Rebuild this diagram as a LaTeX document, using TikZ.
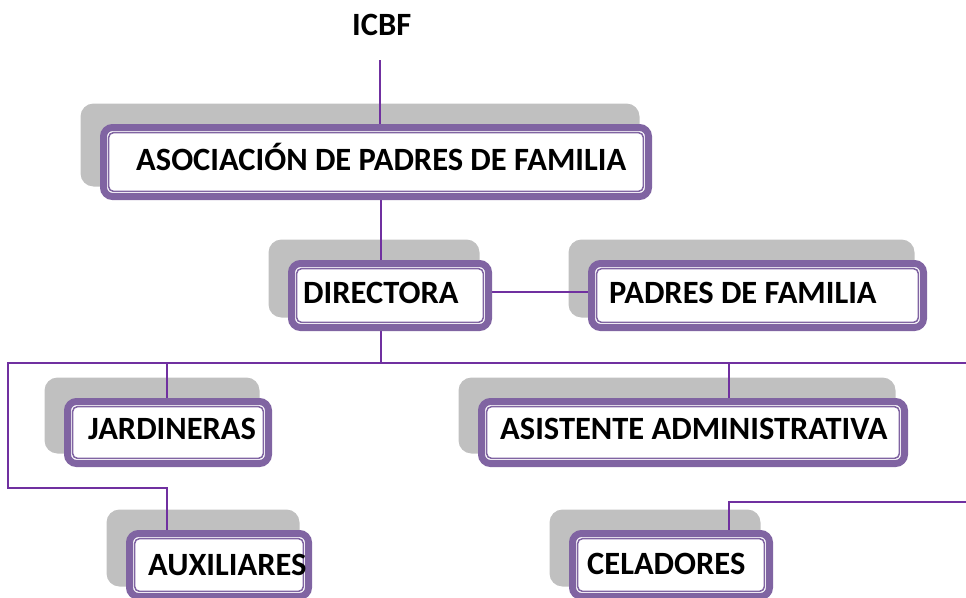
\documentclass[tikz,border=0pt]{standalone}
\usepackage{fontspec}
\setmainfont{Carlito}
\usetikzlibrary{backgrounds,calc}
\definecolor{boxpurple}{HTML}{8064A2}
\definecolor{linepurple}{HTML}{7030A0}
\definecolor{shadowgray}{HTML}{C0C0C0}
\tikzset{
  orgbox/.style={draw=boxpurple, line width=7pt, fill=white, rounded corners=9pt, inner sep=0pt},
  innerline/.style={draw=boxpurple, line width=1.5pt, rounded corners=5pt},
  shadowbox/.style={fill=shadowgray, rounded corners=13pt},
  conn/.style={draw=linepurple, line width=1.8pt},
  lbl/.style={anchor=base west, inner sep=0pt, font=\fontsize{32.5}{38}\selectfont\bfseries}
}
\begin{document}
\begin{tikzpicture}[x=1pt,y=-1pt]
\useasboundingbox (0,0) rectangle (966,597);
\clip (0,0) rectangle (966,597);
% boxes (node border runs along the middle of the thick line)
\node[orgbox, minimum width=545pt, minimum height=69pt] (asoc) at (376,162) {};
\node[orgbox, minimum width=197pt, minimum height=64pt] (dir) at (390,295.5) {};
\node[orgbox, minimum width=332pt, minimum height=64pt] (pad) at (757.5,295.5) {};
\node[orgbox, minimum width=201pt, minimum height=62pt] (jar) at (168,432.5) {};
\node[orgbox, minimum width=423pt, minimum height=62pt] (asis) at (693,432.5) {};
\node[orgbox, minimum width=179pt, minimum height=63pt] (aux) at (219,565) {};
\node[orgbox, minimum width=197pt, minimum height=63pt] (cel) at (671,565) {};
\foreach \n in {asoc,dir,pad,jar,asis,aux,cel} {
  \draw[innerline] ($(\n.north west)+(8.6,8.6)$) rectangle ($(\n.south east)+(-8.6,-8.6)$);
}
% coordinates
\coordinate (top) at (380,60);
\coordinate (trunk) at (381,0);
\coordinate (busL) at (8,363);
\coordinate (busR) at (975,363);
\coordinate (jarx) at (167,363);
\coordinate (asisx) at (729,363);
\coordinate (auxturn) at (167,488);
\coordinate (celR) at (975,502);
\coordinate (celturn) at (729,502);
\begin{scope}[on background layer]
  \foreach \n in {asoc,dir,pad,jar,asis,aux,cel} {
    \fill[shadowbox] ($(\n.north west)+(-19.5,-20.5)$) rectangle ($(\n.south east)+(-12.5,-13.5)$);
  }
  \draw[conn] (top) -- (top |- asoc.north);
  \draw[conn] (asoc.south -| trunk) -- (dir.north -| trunk);
  \draw[conn] ([yshift=3.5pt]dir.east) -- ([yshift=3.5pt]pad.west);
  \draw[conn] (dir.south -| trunk) -- (trunk |- busL);
  \draw[conn] (busR) -- (busL) -- (busL |- auxturn) -- (auxturn) -- (auxturn |- aux.north);
  \draw[conn] (jarx) -- (jarx |- jar.north);
  \draw[conn] (asisx) -- (asisx |- asis.north);
  \draw[conn] (celR) -- (celturn) -- (celturn |- cel.north);
\end{scope}
% labels
\node[lbl] (icbfT) at (352,35) {ICBF};
\node[lbl] (asocT) at (136,170) {ASOCIACIÓN DE PADRES DE FAMILIA};
\node[lbl] (dirT) at (303,303) {DIRECTORA};
\node[lbl] (padT) at (609,303) {PADRES DE FAMILIA};
\node[lbl] (jarT) at (88,439) {JARDINERAS};
\node[lbl] (asisT) at (500,439) {ASISTENTE ADMINISTRATIVA};
\node[lbl] (auxT) at (148,575) {AUXILIARES};
\node[lbl] (celT) at (587,574) {CELADORES};
\end{tikzpicture}
\end{document}
